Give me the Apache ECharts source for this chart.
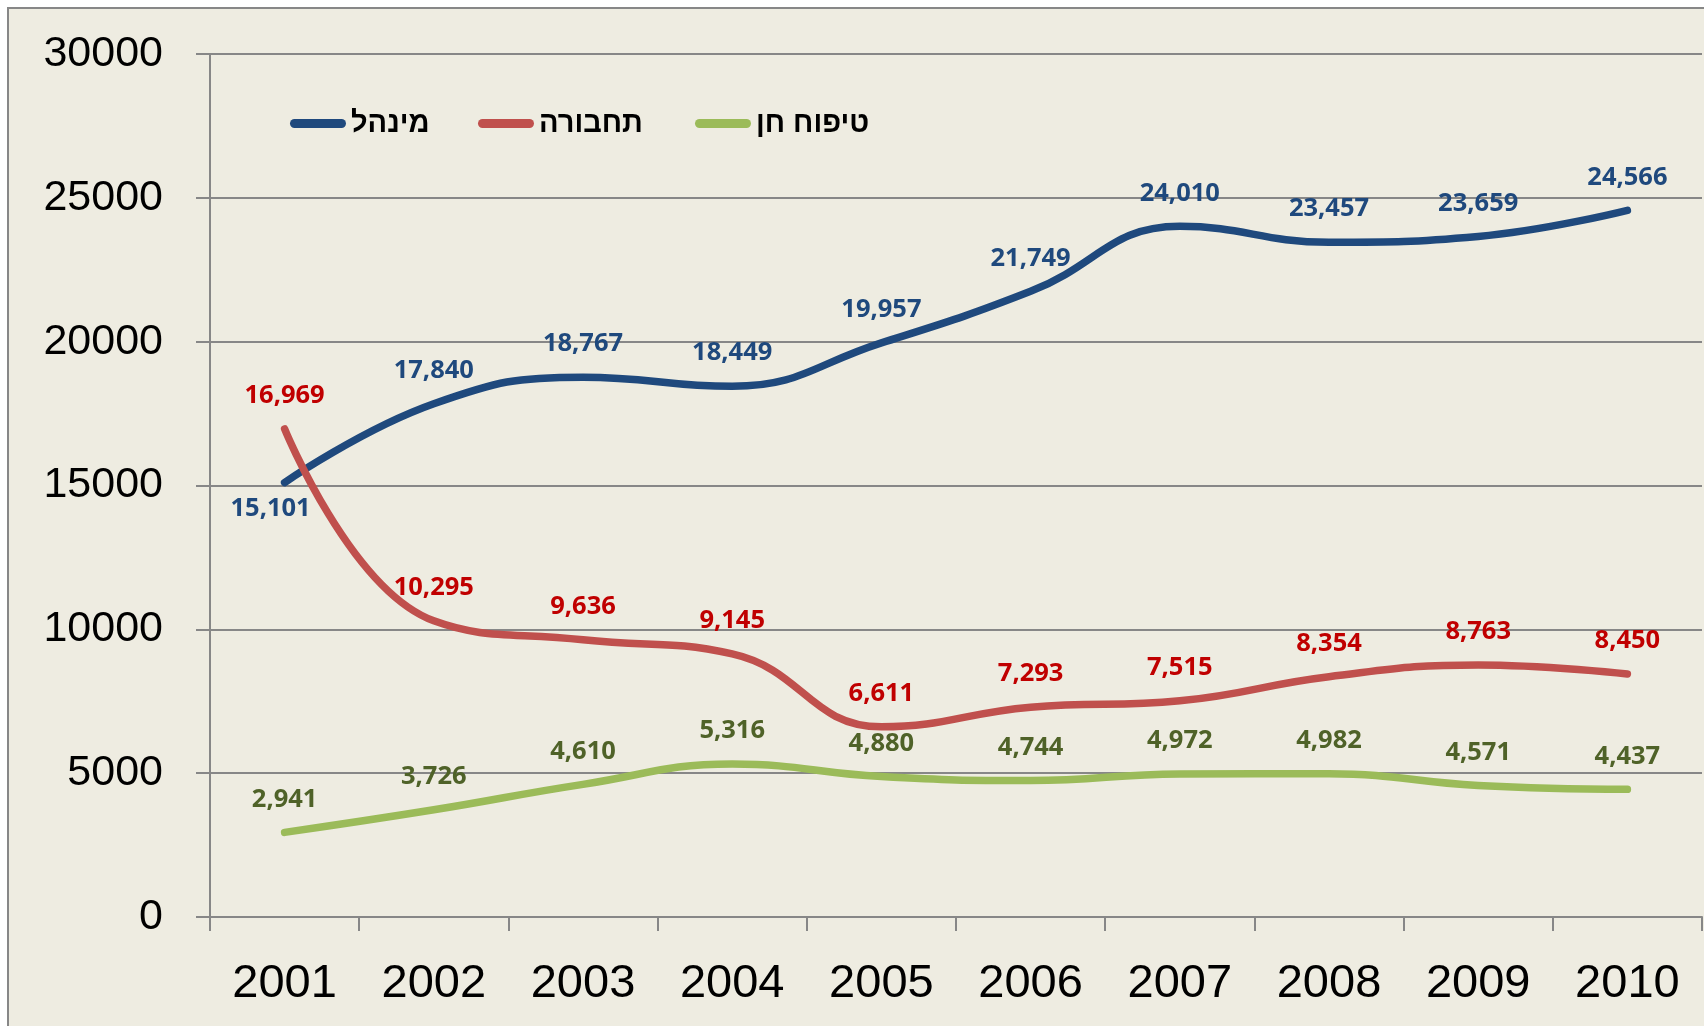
<!DOCTYPE html>
<html>
<head>
<meta charset="utf-8">
<title>chart</title>
<script src="https://cdn.jsdelivr.net/npm/echarts@6/dist/echarts.min.js"></script>
<style>
  html, body { margin: 0; padding: 0; background: #fff; }
  #chart { width: 1704px; height: 1026px; }
</style>
</head>
<body>
<div id="chart"></div>
<script>
// data
const years = ['2001', '2002', '2003', '2004', '2005', '2006', '2007', '2008', '2009', '2010']
const minhal = [15101, 17840, 18767, 18449, 19957, 21749, 24010, 23457, 23659, 24566]
const tachbura = [16969, 10295, 9636, 9145, 6611, 7293, 7515, 8354, 8763, 8450]
const tipuach = [2941, 3726, 4610, 5316, 4880, 4744, 4972, 4982, 4571, 4437]
const seriesNames = ['מינהל', 'תחבורה', 'טיפוח חן']

const lineColors = ['#1F497D', '#C0504D', '#9BBB59']
const labelColors = ['#1F497D', '#C00000', '#4F6228']
const gray = '#878787'
const labelFont = "'Open Sans', sans-serif"
const pill = 'path://M4.5,0H51.5A4.5,4.5,0,0,1,51.5,9H4.5A4.5,4.5,0,0,1,4.5,0Z'

const fmt = v => v.toLocaleString('en-US')

function makeSeries(name, values, idx) {
  const data = values.map((v, i) => {
    // the first blue point has its label underneath
    if (idx === 0 && i === 0) {
      return { value: v, label: { position: 'bottom', distance: 13, offset: [-14, 0] } }
    }
    return v
  })
  return {
    name: name,
    type: 'line',
    smooth: 0.45,
    symbol: 'circle',
    symbolSize: 0.1,
    showSymbol: true,
    data: data,
    lineStyle: { color: lineColors[idx], width: 7.5, cap: 'round', join: 'round' },
    itemStyle: { color: lineColors[idx] },
    label: {
      show: true,
      position: 'top',
      distance: 20,
      color: labelColors[idx],
      fontFamily: labelFont,
      fontWeight: 'bold',
      fontSize: 25.5,
      formatter: p => fmt(p.value),
    },
    animation: false,
  }
}

const legendLeft = [285, 473, 690]

const chart = echarts.init(document.getElementById('chart'))
chart.setOption({
  backgroundColor: '#ffffff',
  graphic: [{
    type: 'rect',
    z: -10,
    shape: { x: 8, y: 8, width: 1710, height: 1030 },
    style: { fill: '#EEECE1', stroke: gray, lineWidth: 2 },
  }],
  legend: seriesNames.map((n, i) => ({
    data: [n],
    left: legendLeft[i],
    top: 104,
    icon: pill,
    itemWidth: 56,
    itemHeight: 9,
    textStyle: {
      fontFamily: "'Liberation Sans', 'DejaVu Sans', sans-serif",
      fontWeight: 'bold',
      fontSize: 29,
      color: '#000',
    },
  })),
  grid: { left: 210, right: 2, top: 54, bottom: 109, containLabel: false },
  xAxis: {
    type: 'category',
    data: years,
    boundaryGap: true,
    axisLine: { lineStyle: { color: gray, width: 2 } },
    axisTick: { show: true, length: 14, interval: 0, lineStyle: { color: gray, width: 2 } },
    axisLabel: {
      margin: 44,
      fontSize: 47,
      color: '#000',
      fontFamily: "'Liberation Sans', Arial, sans-serif",
    },
  },
  yAxis: {
    type: 'value',
    min: 0,
    max: 30000,
    interval: 5000,
    axisLine: { show: true, lineStyle: { color: gray, width: 2 } },
    axisTick: { show: true, length: 14, lineStyle: { color: gray, width: 2 } },
    splitLine: { lineStyle: { color: gray, width: 2 } },
    axisLabel: {
      margin: 47,
      fontSize: 43,
      color: '#000',
      fontFamily: "'Liberation Sans', Arial, sans-serif",
      formatter: v => String(v),
    },
  },
  series: [
    makeSeries(seriesNames[0], minhal, 0),
    makeSeries(seriesNames[1], tachbura, 1),
    makeSeries(seriesNames[2], tipuach, 2),
  ],
})
</script>
</body>
</html>
